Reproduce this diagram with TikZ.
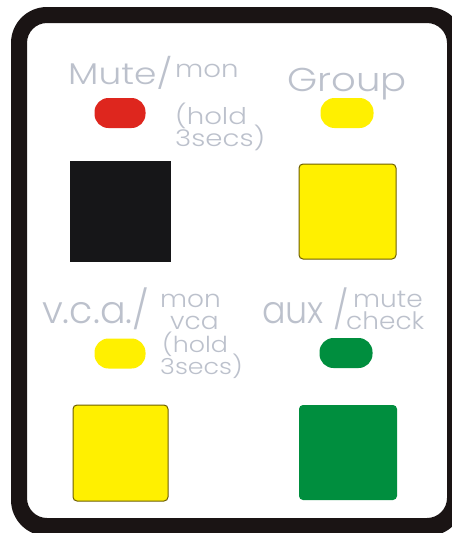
\documentclass[tikz,border=0pt]{standalone}
\usepackage{fontspec}
\IfFontExistsTF{Poppins Light}{\setmainfont{Poppins Light}}{\setmainfont{Poppins}}
\definecolor{framecol}{RGB}{26,20,20}
\definecolor{txtcol}{RGB}{188,193,204}
\definecolor{ledred}{RGB}{222,38,30}
\definecolor{ledyel}{RGB}{255,240,0}
\definecolor{ledgrn}{RGB}{0,142,62}
\definecolor{btnblk}{RGB}{22,22,24}
\definecolor{olive}{RGB}{110,95,0}
\begin{document}
\begin{tikzpicture}[x=1pt,y=-1pt,
  lbl/.style={inner sep=0pt, anchor=base west, text=txtcol},
  led/.style={draw=none, inner sep=0pt, minimum width=51pt, minimum height=30pt, rounded corners=14pt},
  btn/.style={inner sep=0pt, line width=1pt}]
\useasboundingbox (0,0) rectangle (452,533);
\fill[white] (0,0) rectangle (452,533);
\fill[framecol, even odd rule] [rounded corners=36pt] (11,7) rectangle (464,536) [rounded corners=20pt] (27,23) rectangle (447,518);
% buttons
\node[btn, fill=btnblk, minimum width=101pt, minimum height=101pt] (mutebtn) at (120.5,211.5) {};
\node[btn, fill=ledyel, draw=olive, rounded corners=4pt, minimum width=97pt, minimum height=95pt] (groupbtn) at (347.5,211.5) {};
\node[btn, fill=ledyel, draw=olive, rounded corners=4pt, minimum width=95pt, minimum height=96pt] (vcabtn) at (120.5,453) {};
\node[btn, fill=ledgrn, rounded corners=4pt, minimum width=98pt, minimum height=95pt] (auxbtn) at (348,452.5) {};
% leds
\node[led, fill=ledred] (muteled) at (120,113) {};
\node[led, fill=ledyel, minimum width=53pt] (groupled) at (347,113) {};
\node[led, fill=ledyel] (vcaled) at (120,353.5) {};
\node[led, fill=ledgrn, minimum width=53pt] (auxled) at (346,353) {};
% labels
\node[lbl] (mutetxt) at (68,84) {\scalebox{1.2}[1]{\fontsize{30}{30}\selectfont Mute/}};
\node[lbl] (montxt) at (175,77) {\scalebox{1.15}[1]{\fontsize{24}{24}\selectfont mon}};
\node[lbl] (holdtxt) at (175,124) {\scalebox{1.2}[1]{\fontsize{23}{23}\selectfont (hold}};
\node[lbl] (secstxt) at (175,146) {\scalebox{1.2}[1]{\fontsize{23}{23}\selectfont 3secs)}};
\node[lbl] (grouptxt) at (287,91) {\scalebox{1.17}[1]{\fontsize{33}{33}\selectfont Group}};
\node[lbl] (vcatxt) at (42,323) {\scalebox{1.0}[1]{\fontsize{38}{38}\selectfont v.c.a./}};
\node[lbl] (vmontxt) at (160,307) {\scalebox{1.1}[1]{\fontsize{24}{24}\selectfont mon}};
\node[lbl] (vvcatxt) at (170,329) {\scalebox{1.1}[1]{\fontsize{24}{24}\selectfont vca}};
\node[lbl] (vholdtxt) at (162,352) {\scalebox{1.15}[1]{\fontsize{22}{22}\selectfont (hold}};
\node[lbl] (vsecstxt) at (160,374) {\scalebox{1.15}[1]{\fontsize{22}{22}\selectfont 3secs)}};
\node[lbl] (auxtxt) at (262,323) {\scalebox{0.92}[1]{\fontsize{38}{38}\selectfont aux /}};
\node[lbl] (mutesub) at (353,307) {\scalebox{1.1}[1]{\fontsize{24}{24}\selectfont mute}};
\node[lbl] (checktxt) at (346,329) {\scalebox{1.1}[1]{\fontsize{24}{24}\selectfont check}};
\end{tikzpicture}
\end{document}
